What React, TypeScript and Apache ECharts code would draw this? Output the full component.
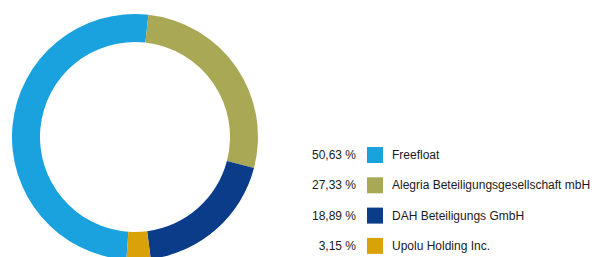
import React, { useEffect, useRef } from "react";
import * as echarts from "echarts";

const names = [
  "Freefloat",
  "Alegria Beteiligungsgesellschaft mbH",
  "DAH Beteiligungs GmbH",
  "Upolu Holding Inc.",
];
const shares = [50.63, 27.33, 18.89, 3.15];
const colors = ["#19A2DD", "#A9A855", "#0A3C8A", "#D9A208"];

const fmt = (v: number) => v.toFixed(2).replace(".", ",") + " %";

export default function App() {
  const ref = useRef<HTMLDivElement>(null);
  useEffect(() => {
    if (!ref.current) return;
    const chart = echarts.init(ref.current, null, { renderer: "svg" });
    const rowTop = 147;
    const iconSize = 16;
    const rowGap = 14.3;
    const rowStep = iconSize + rowGap;
    const font = "Liberation Sans, Arial, sans-serif";
    chart.setOption({
      animation: false,
      color: colors,
      legend: {
        orient: "vertical",
        left: 367,
        top: rowTop,
        padding: 0,
        itemWidth: iconSize,
        itemHeight: iconSize,
        itemGap: rowGap,
        icon: "rect",
        selectedMode: false,
        data: names,
        textStyle: {
          fontFamily: font,
          fontSize: 12,
          color: "#1a1a1a",
          padding: [0, 0, 0, 4],
        },
      },
      graphic: shares.map((v, i) => ({
        type: "text",
        x: 356,
        y: rowTop + i * rowStep + iconSize / 2,
        style: {
          text: fmt(v),
          fontFamily: font,
          fontSize: 12,
          fill: "#1a1a1a",
          align: "right",
          verticalAlign: "middle",
        },
      })),
      series: [
        {
          type: "pie",
          center: [135, 137],
          radius: [95, 123],
          startAngle: -94,
          clockwise: true,
          label: { show: false },
          labelLine: { show: false },
          emphasis: { disabled: true },
          data: names.map((n, i) => ({ name: n, value: shares[i] })),
        },
      ],
    });
    return () => chart.dispose();
  }, []);
  return (
    <div
      ref={ref}
      style={{ position: "absolute", left: 0, top: 0, width: 600, height: 257 }}
    />
  );
}
